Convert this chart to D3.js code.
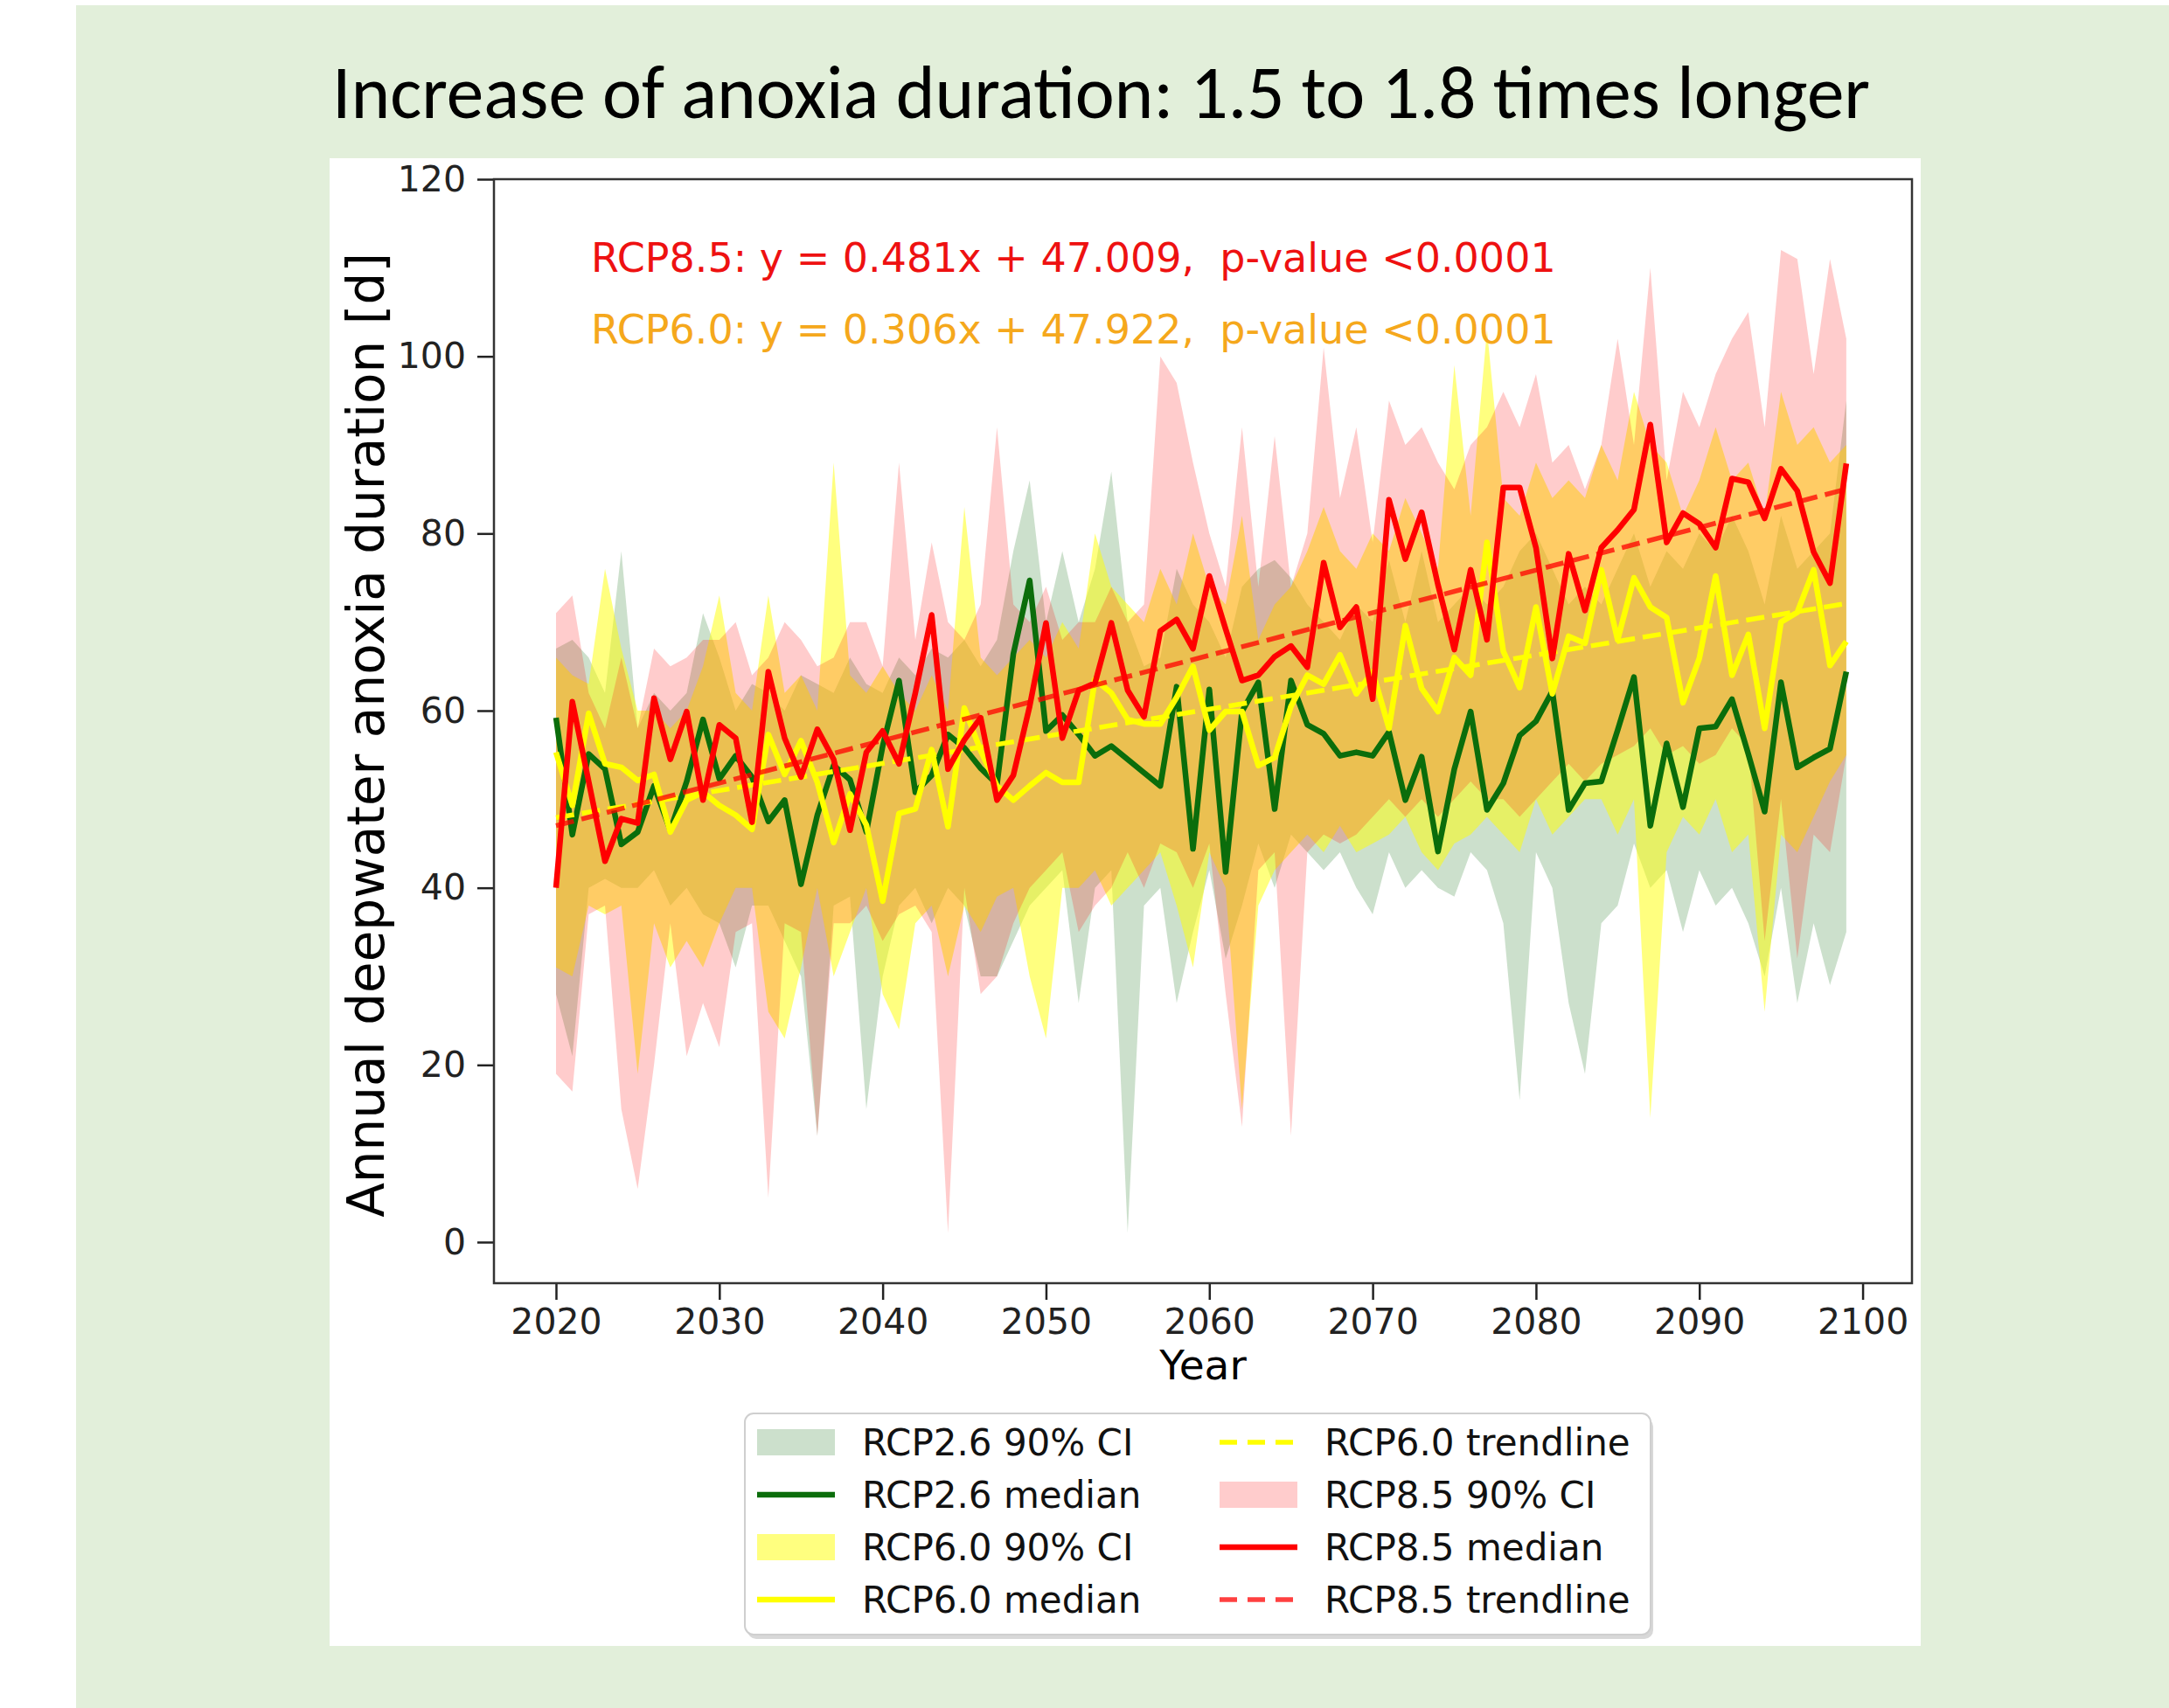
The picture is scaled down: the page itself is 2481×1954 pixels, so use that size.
<!DOCTYPE html>
<html>
<head>
<meta charset="utf-8">
<script src="https://cdn.jsdelivr.net/npm/d3@7"></script>
<style>
  body { margin: 0; background: #fff; }
  text { font-family: "DejaVu Sans", sans-serif; }
</style>
</head>
<body>
<div id="chart"></div>
<script>
var width = 2481,
    height = 1954;

// ---- data ----
var years = d3.range(2020, 2100);

var rcp26Median = [59.2,46.0,55.1,53.4,44.9,46.3,51.5,46.5,52.0,59.0, 52.3,54.9,52.5,47.5,49.9,40.4,48.2,53.8,52.2,46.3,
  56.0,63.4,50.8,52.7,57.3,55.8,53.5,51.7,66.4,74.7, 57.7,59.5,57.3,54.9,56.0,54.5,53.0,51.5,62.7,44.4,
  62.4,41.8,59.9,63.2,48.9,63.4,58.4,57.4,54.9,55.3, 54.9,57.6,49.9,54.8,44.1,53.4,59.9,48.8,51.8,57.2,
  58.8,62.2,48.8,51.8,52.0,57.8,63.8,47.0,56.3,49.1, 58.0,58.2,61.3,55.1,48.6,63.2,53.6,54.7,55.7,64.4];
var rcp26Low = [28,21,40,41,40,40,42,38,40,37, 36,31,38,38,34,30,12,38,39,15,
  30,38,40,36,40,38,30,30,34,38, 40,42,27,40,42,1,38,40,27,35,
  42,32,38,45,40,46,44,42,44,40, 37,44,40,42,40,39,44,42,36,16,
  44,40,27,19,36,38,45,40,42,35, 42,38,40,36,30,40,27,36,29,35];
var rcp26High = [67,68,66,62,78,58,62,60,62,71, 66,60,63,62,60,64,63,62,66,63,
  62,66,64,67,66,68,65,68,78,86, 70,78,70,76,87,70,65,66,76,72,
  70,66,74,76,77,75,72,70,68,72, 70,77,70,78,70,72,74,72,74,78,
  80,76,72,74,72,76,80,74,78,76, 80,78,82,78,72,82,76,78,80,95];

var rcp60Median = [55.3,49.3,59.7,54.0,53.6,52.1,52.8,46.3,49.9,50.8, 49.3,48.2,46.6,57.3,52.8,56.6,51.9,45.1,50.6,47.1,
  38.5,48.4,48.9,55.6,46.9,60.3,55.5,51.5,49.9,51.5, 53.0,51.9,51.9,63.5,62.0,59.0,58.5,58.5,61.5,65.0,
  57.8,59.9,59.9,53.8,54.7,60.5,64.0,63.0,66.3,61.9, 64.4,58.0,69.6,62.5,59.9,66.0,64.0,79.0,66.7,62.6,
  71.7,61.9,68.4,67.6,75.9,68.0,75.0,71.7,70.5,60.9, 65.9,75.2,64.0,68.6,58.0,70.0,71.1,75.9,65.1,67.8];
var rcp60Low = [31,30,38,37,38,19,36,31,34,31, 36,40,40,26,23,31,40,30,35,40,
  28,24,36,38,30,38,35,39,40,30, 23,40,40,42,38,40,42,44,38,31,
  44,40,15,38,42,44,46,44,47,44, 45,46,48,44,42,45,46,48,46,44,
  50,46,48,50,50,46,50,14,44,48, 46,50,44,46,26,46,44,48,52,55];
var rcp60High = [66,64,63,76,67,60,60,58,60,65, 73,62,60,73,62,64,60,88,64,62,
  65,62,60,64,60,83,66,64,66,68, 66,70,67,80,74,72,70,76,72,80,
  74,72,82,68,72,74,78,83,78,76, 80,78,84,80,76,99,82,103,84,82,
  88,84,86,84,90,86,96,90,88,82, 86,92,86,88,82,96,90,92,88,90];

var rcp85Median = [40.0,61.0,52.0,43.0,47.8,47.3,61.4,54.5,59.9,49.9, 58.4,56.9,47.4,64.4,56.9,52.5,57.9,54.5,46.5,55.3,
  57.7,54.0,62.0,70.8,53.4,56.7,59.2,49.9,52.7,60.5, 69.9,56.9,62.3,63.1,69.9,62.3,59.3,69.0,70.3,67.0,
  75.2,69.2,63.4,64.0,66.1,67.3,64.9,76.7,69.4,71.7, 61.3,83.8,77.1,82.4,74.2,66.9,75.9,68.0,85.2,85.2,
  78.4,65.9,77.7,71.3,78.4,80.4,82.7,92.3,79.0,82.3, 81.1,78.4,86.2,85.8,81.7,87.3,84.8,77.9,74.4,87.9];
var rcp85Low = [19,17,37,38,15,6,20,36,21,27, 22,35,36,5,36,35,12,36,36,38,
  34,37,38,35,1,40,28,30,36,40, 42,44,35,38,40,44,40,45,44,40,
  45,28,13,42,44,12,44,46,45,46, 48,50,48,50,48,50,52,50,50,48,
  50,52,54,52,54,55,56,58,55,56, 54,55,58,56,34,50,32,46,44,55];
var rcp85High = [71,73,62,58,66,58,67,65,66,68, 68,70,64,66,70,68,65,66,70,70,
  65,88,68,79,70,68,72,92,72,70, 74,68,70,70,74,70,72,100,97,88,
  80,74,92,74,91,74,80,101,84,92, 79,95,90,92,88,85,90,92,96,92,
  98,88,90,85,90,102,90,110,86,96, 92,98,102,105,92,112,111,98,111,102];

var trendSlope = [0.306, 0.481];      // RCP6.0, RCP8.5
var trendIntercept = [47.922, 47.009];

var xTicks = [2020, 2030, 2040, 2050, 2060, 2070, 2080, 2090, 2100];
var yTicks = [0, 20, 40, 60, 80, 100, 120];

var series = [
  {name: "RCP2.6", median: rcp26Median, low: rcp26Low, high: rcp26High, fill: "#006400", op: 0.2, line: "#0b6d0b"},
  {name: "RCP6.0", median: rcp60Median, low: rcp60Low, high: rcp60High, fill: "#ffff00", op: 0.5, line: "#ffff00"},
  {name: "RCP8.5", median: rcp85Median, low: rcp85Low, high: rcp85High, fill: "#ff0000", op: 0.2, line: "#ff0000"}
];

var svg = d3.select("#chart").append("svg").attr("width", width).attr("height", height);

// slide background and white figure
svg.append("rect").attr("x", 87).attr("y", 6).attr("width", width - 87).attr("height", height - 6).attr("fill", "#e2efda");
svg.append("rect").attr("x", 377).attr("y", 181).attr("width", 1820).attr("height", 1702).attr("fill", "#fff");

svg.append("text")
  .attr("x", 380).attr("y", 135)
  .attr("textLength", 1759).attr("lengthAdjust", "spacingAndGlyphs")
  .style("font-family", "Carlito, 'Liberation Sans Narrow', 'Open Sans', sans-serif")
  .style("font-size", "86px")
  .attr("fill", "#000")
  .text("Increase of anoxia duration: 1.5 to 1.8 times longer");

var x = d3.scaleLinear().domain([2016.2, 2103.02]).range([565, 2187]);
var y = d3.scaleLinear().domain([-4.64, 120]).range([1468, 205]);

var area = d3.area()
  .x(function(d) { return x(d.year); })
  .y0(function(d) { return y(d.lo); })
  .y1(function(d) { return y(d.hi); });

var line = d3.line()
  .x(function(d) { return x(d.year); })
  .y(function(d) { return y(d.v); });

// confidence bands
series.forEach(function(s) {
  var pts = years.map(function(yr, i) { return {year: yr, lo: s.low[i], hi: s.high[i]}; });
  svg.append("path")
    .datum(pts)
    .attr("d", area)
    .attr("fill", s.fill)
    .attr("fill-opacity", s.op)
    .attr("stroke", "none");
});

// medians and trendlines
series.forEach(function(s, k) {
  var pts = years.map(function(yr, i) { return {year: yr, v: s.median[i]}; });
  svg.append("path")
    .datum(pts)
    .attr("d", line)
    .attr("fill", "none")
    .attr("stroke", s.line)
    .attr("stroke-width", 6.5)
    .attr("stroke-linejoin", "round");

  if (k > 0) {
    var t = k - 1;
    var ends = [years[0], years[years.length - 1]].map(function(yr) {
      return {year: yr, v: trendSlope[t] * (yr - 2020) + trendIntercept[t]};
    });
    svg.append("path")
      .datum(ends)
      .attr("d", line)
      .attr("fill", "none")
      .attr("stroke", s.line)
      .attr("stroke-opacity", k == 2 ? 0.75 : 1)
      .attr("stroke-width", 5.5)
      .attr("stroke-dasharray", "21,9");
  }
});

// axes
var yAxis = svg.append("g")
  .attr("transform", "translate(565,0)")
  .call(d3.axisLeft(y).tickValues(yTicks).tickSize(19).tickPadding(13));
var xAxis = svg.append("g")
  .attr("transform", "translate(0,1468)")
  .call(d3.axisBottom(x).tickValues(xTicks).tickFormat(d3.format("d")).tickSize(19).tickPadding(10));

[xAxis, yAxis].forEach(function(g) {
  g.select(".domain").remove();
  g.selectAll(".tick line").attr("stroke", "#222").attr("stroke-width", 2.5);
  g.selectAll(".tick text")
    .attr("fill", "#222")
    .style("font-family", "DejaVu Sans")
    .style("font-size", "41px");
});

svg.append("rect")
  .attr("x", 565).attr("y", 205)
  .attr("width", 2187 - 565).attr("height", 1468 - 205)
  .attr("fill", "none")
  .attr("stroke", "#333")
  .attr("stroke-width", 2.5);

svg.append("text")
  .attr("x", 1376).attr("y", 1578)
  .attr("text-anchor", "middle")
  .style("font-size", "47px")
  .text("Year");

svg.append("text")
  .attr("transform", "translate(439,841) rotate(-90)")
  .attr("text-anchor", "middle")
  .style("font-size", "58px")
  .text("Annual deepwater anoxia duration [d]");

// regression notes
svg.append("text")
  .attr("x", 676).attr("y", 311)
  .style("font-size", "46px").style("white-space", "pre")
  .attr("fill", "#ee1111")
  .text("RCP8.5: y = 0.481x + 47.009,  p-value <0.0001");
svg.append("text")
  .attr("x", 676).attr("y", 393)
  .style("font-size", "46px").style("white-space", "pre")
  .attr("fill", "#f5a81c")
  .text("RCP6.0: y = 0.306x + 47.922,  p-value <0.0001");

// legend
var legendItems = [
  {label: "RCP2.6 90% CI", kind: "patch", s: 0},
  {label: "RCP2.6 median", kind: "line", s: 0},
  {label: "RCP6.0 90% CI", kind: "patch", s: 1},
  {label: "RCP6.0 median", kind: "line", s: 1},
  {label: "RCP6.0 trendline", kind: "dash", s: 1},
  {label: "RCP8.5 90% CI", kind: "patch", s: 2},
  {label: "RCP8.5 median", kind: "line", s: 2},
  {label: "RCP8.5 trendline", kind: "dash", s: 2}
];

var legend = svg.append("g");
legend.append("rect")
  .attr("x", 855).attr("y", 1622).attr("width", 1036).attr("height", 253)
  .attr("rx", 10).attr("fill", "#d8d8d8");
legend.append("rect")
  .attr("x", 852).attr("y", 1617).attr("width", 1036).attr("height", 253)
  .attr("rx", 10).attr("fill", "#fff").attr("stroke", "#cfcfcf").attr("stroke-width", 2);

var colX = [866, 1395],
    textX = [986, 1515],
    rowY = [1650, 1710, 1770, 1830];

legendItems.forEach(function(it, i) {
  var c = Math.floor(i / 4), r = i % 4, s = series[it.s];
  var g = legend.append("g").attr("transform", "translate(" + colX[c] + "," + rowY[r] + ")");
  if (it.kind == "patch") {
    g.append("rect").attr("x", 0).attr("y", -15).attr("width", 89).attr("height", 30)
      .attr("fill", s.fill).attr("fill-opacity", s.op);
  } else {
    g.append("line").attr("x1", 0).attr("x2", 89).attr("y1", 0).attr("y2", 0)
      .attr("stroke", s.line)
      .attr("stroke-width", it.kind == "line" ? 6.5 : 5.5)
      .attr("stroke-opacity", it.kind == "dash" && it.s == 2 ? 0.75 : 1)
      .attr("stroke-dasharray", it.kind == "dash" ? "20,12" : null);
  }
  legend.append("text")
    .attr("x", textX[c]).attr("y", rowY[r])
    .attr("dy", "0.36em")
    .style("font-size", "42px")
    .attr("fill", "#111")
    .text(it.label);
});
</script>
</body>
</html>
